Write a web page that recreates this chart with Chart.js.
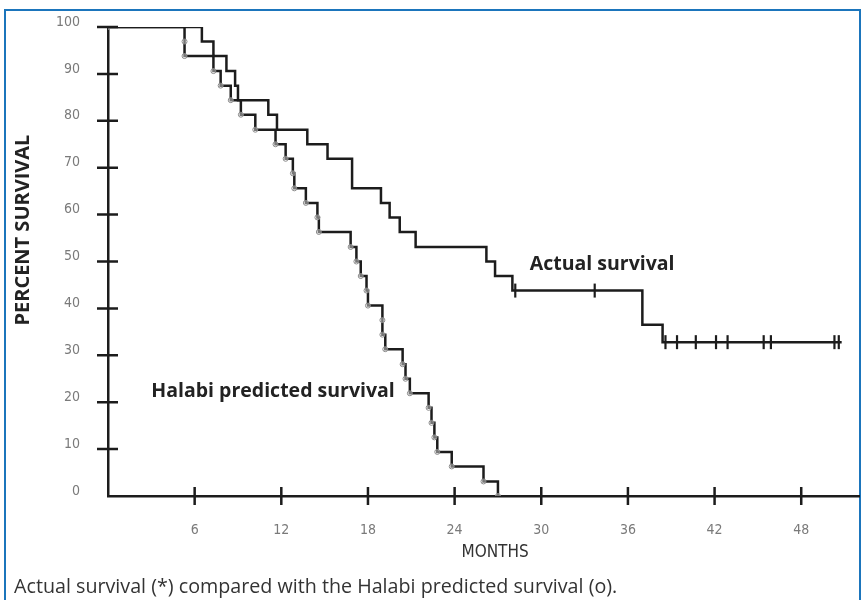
<!DOCTYPE html>
<html>
<head>
<meta charset="utf-8">
<script src="https://cdn.jsdelivr.net/npm/chart.js@4/dist/chart.umd.min.js"></script>
<style>
  html, body { margin: 0; padding: 0; background: #fff; }
  #wrap { position: relative; width: 865px; height: 600px; overflow: hidden; }
  #frame { position: absolute; left: 4px; top: 9px; width: 857px; height: 620px;
           border: 2px solid #1b75bc; box-sizing: border-box; }
  #chartBox { position: absolute; left: 0; top: 0; width: 865px; height: 600px; }
  #caption { position: absolute; left: 14px; top: 572px; font-family: 'Open Sans', sans-serif;
             font-size: 19.7px; color: #333; white-space: nowrap; }
</style>
</head>
<body>
<div id="wrap">
  <div id="frame"></div>
  <div id="chartBox"><canvas id="myChart" width="865" height="600"></canvas></div>
  <div id="caption">Actual survival (*) compared with the Halabi predicted survival (o).</div>
</div>
<script>
// Halabi predicted survival (circles)
const halabiMonths = [0, 5.3, 5.3, 7.3, 7.8, 8.5, 9.2, 10.2, 11.6, 12.3, 12.8, 12.9, 13.7, 14.5, 14.6,
    16.8, 17.2, 17.5, 17.9, 18.0, 19.0, 19.0, 19.2, 20.4, 20.6, 20.9, 22.2, 22.4, 22.6, 22.8, 23.8, 26.0, 27.0];
const halabiPercent = [100, 96.9, 93.8, 90.6, 87.5, 84.4, 81.3, 78.1, 75.0, 71.9, 68.8, 65.6, 62.5, 59.4, 56.3,
    53.1, 50.0, 46.9, 43.8, 40.6, 37.5, 34.4, 31.3, 28.1, 25.0, 21.9, 18.8, 15.6, 12.5, 9.4, 6.3, 3.1, 0];

// actual survival (Kaplan-Meier)
const actualMonths = [0, 6.5, 7.3, 8.2, 8.8, 9.0, 11.1, 11.7, 13.8, 15.2, 16.9, 16.9, 18.9, 19.5, 20.2,
    21.3, 26.2, 26.8, 28.0, 37.0, 37.0, 38.4, 50.8];
const actualPercent = [100, 96.9, 93.8, 90.6, 87.5, 84.4, 81.3, 78.1, 75.0, 71.9, 68.8, 65.6, 62.5, 59.4, 56.3,
    53.1, 50.0, 46.9, 43.8, 40.1, 36.5, 32.8, 32.8];

// censored patients (tick marks)
const censorMonths = [28.2, 33.7, 38.6, 39.4, 40.7, 42.1, 42.9, 45.4, 45.9, 50.3, 50.6];
const censorPercent = [43.8, 43.8, 32.8, 32.8, 32.8, 32.8, 32.8, 32.8, 32.8, 32.8, 32.8];

const xTicks = [6, 12, 18, 24, 30, 36, 42, 48];
const yTicks = [0, 10, 20, 30, 40, 50, 60, 70, 80, 90, 100];

const labelTexts = ['Actual survival', 'Halabi predicted survival'];
const labelMonths = [29.2, 3.0];
const labelPercents = [49.3, 22.4];

const tickFont = "'Liberation Sans Narrow', 'DejaVu Sans Condensed', Arial, sans-serif";
const lineColor = '#1c1c1c';

function points(xs, ys) {
    let arr = [];
    for (let i = 0; i < xs.length; i++) {
        arr.push({x: xs[i], y: ys[i]});
    }
    return arr;
}

// tick marks crossing both axes, y labels, axis titles and curve labels
const crossTicks = {
    id: 'crossTicks',
    afterDatasetsDraw(chart) {
        const ctx = chart.ctx;
        const xs = chart.scales.x, ys = chart.scales.y;
        const area = chart.chartArea;
        ctx.save();
        ctx.strokeStyle = lineColor;
        ctx.lineWidth = 2.5;
        ctx.beginPath();
        yTicks.forEach(v => {
            if (v === 0) return;
            const py = ys.getPixelForValue(v);
            ctx.moveTo(area.left - 11, py);
            ctx.lineTo(area.left + 10, py);
        });
        xTicks.forEach(v => {
            const px = xs.getPixelForValue(v);
            ctx.moveTo(px, area.bottom - 9);
            ctx.lineTo(px, area.bottom + 9);
        });
        ctx.stroke();

        // y tick labels sit a little above their ticks
        ctx.fillStyle = '#7a7a7a';
        ctx.font = '14px ' + tickFont;
        ctx.textAlign = 'right';
        ctx.textBaseline = 'middle';
        yTicks.forEach(v => {
            ctx.fillText(String(v), area.left - 28, ys.getPixelForValue(v) - 5);
        });

        // x axis title (a bit right of centre, as in the original)
        ctx.fillStyle = '#333';
        ctx.font = '17px ' + tickFont;
        ctx.textAlign = 'center';
        ctx.fillText('MONTHS', xs.getPixelForValue(26.8), area.bottom + 57);

        // y axis title
        ctx.save();
        ctx.translate(23, ys.getPixelForValue(56.7));
        ctx.rotate(-Math.PI / 2);
        ctx.textAlign = 'center';
        ctx.fillStyle = '#222';
        ctx.font = "bold 20px 'Open Sans', sans-serif";
        ctx.fillText('PERCENT SURVIVAL', 0, 0);
        ctx.restore();

        ctx.fillStyle = '#222';
        ctx.font = "bold 19.5px 'Open Sans', sans-serif";
        ctx.textBaseline = 'middle';
        ctx.textAlign = 'left';
        labelTexts.forEach((t, i) => {
            ctx.fillText(t, xs.getPixelForValue(labelMonths[i]), ys.getPixelForValue(labelPercents[i]));
        });
        ctx.restore();
    }
};

const ctx = document.getElementById('myChart').getContext('2d');
const myChart = new Chart(ctx, {
    type: 'line',
    data: {
        datasets: [
            {
                label: 'Halabi predicted survival',
                data: points(halabiMonths, halabiPercent),
                stepped: true,
                fill: false,
                borderColor: lineColor,
                borderWidth: 2.5,
                pointStyle: 'circle',
                pointRadius: 2.5,
                pointBorderWidth: 1,
                pointBorderColor: '#8a8a8a',
                pointBackgroundColor: 'rgba(255,255,255,0.4)',
            },
            {
                label: 'Actual survival',
                data: points(actualMonths, actualPercent),
                stepped: true,
                fill: false,
                borderColor: lineColor,
                borderWidth: 2.5,
                pointRadius: 0,
            },
            {
                label: 'Censored',
                data: points(censorMonths, censorPercent),
                showLine: false,
                pointStyle: 'line',
                rotation: 90,
                pointRadius: 7,
                pointBorderWidth: 2.2,
                pointBorderColor: lineColor,
            }
        ]
    },
    options: {
        responsive: false,
        animation: false,
        plugins: {
            legend: {display: false},
            tooltip: {enabled: false}
        },
        layout: {autoPadding: false, padding: {top: 27, right: 6, left: 0, bottom: 0}},
        scales: {
            x: {
                type: 'linear',
                min: 0,
                max: 52,
                afterBuildTicks: s => { s.ticks = xTicks.map(v => ({value: v})); },
                afterFit: s => { s.height = 104; },
                grid: {display: true, drawOnChartArea: false, drawTicks: false},
                border: {display: true, color: lineColor, width: 2.5},
                ticks: {
                    color: '#7a7a7a',
                    padding: 26,
                    maxRotation: 0,
                    font: {family: tickFont, size: 14}
                }
            },
            y: {
                type: 'linear',
                min: 0,
                max: 100,
                afterBuildTicks: s => { s.ticks = yTicks.map(v => ({value: v})); },
                afterFit: s => { s.width = 108; },
                grid: {display: true, drawOnChartArea: false, drawTicks: false},
                border: {display: true, color: lineColor, width: 2.5},
                ticks: {display: false}
            }
        }
    },
    plugins: [crossTicks]
});
</script>
</body>
</html>
